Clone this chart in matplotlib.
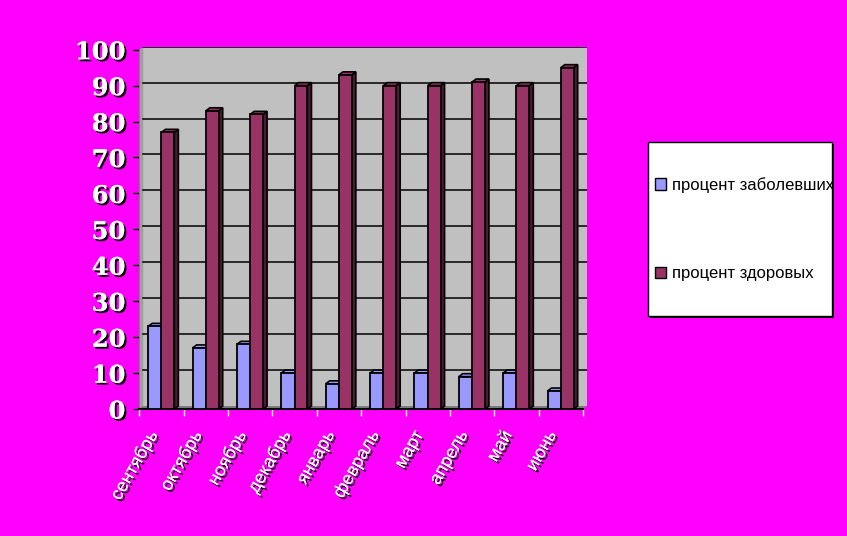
import matplotlib.pyplot as plt
import matplotlib.patheffects as pe
from matplotlib.patches import Polygon, Rectangle, Patch
import numpy as np

months = ["сентябрь", "октябрь", "ноябрь", "декабрь", "январь",
          "февраль", "март", "апрель", "май", "июнь"]
sick = [23, 17, 18, 10, 7, 10, 10, 9, 10, 5]
healthy = [77, 83, 82, 90, 93, 90, 90, 91, 90, 95]
series_names = ["процент заболевших", "процент здоровых"]
yticks = [0, 10, 20, 30, 40, 50, 60, 70, 80, 90, 100]

c_sick = "#9999ff"
c_sick_dark = "#4d4d80"
c_health = "#993366"
c_health_dark = "#4d1a33"
bg = "#ff00ff"

# depth of the fake 3d (data units): ~4px right, ~3px up
dx, dy = 0.09, 0.83

fig = plt.figure(figsize=(8.47, 5.36), dpi=100, facecolor=bg)
ax = fig.add_axes([139.3/847, 127/536, 447.7/847, 362.3/536])
ax.set_facecolor(bg)
ax.set_xlim(0, 10 + dx)
ax.set_ylim(0, 100 + dy)

# back wall, side wall and floor
ax.add_patch(Polygon([(dx, dy), (10 + dx, dy), (10 + dx, 100 + dy), (dx, 100 + dy)], closed=True,
                     facecolor="#c0c0c0", edgecolor="none", zorder=0.4))
ax.add_patch(Polygon([(0, 0), (dx, dy), (dx, 100 + dy), (0, 100)], closed=True,
                     facecolor="#a0a0a0", edgecolor="none", zorder=0.5))
ax.add_patch(Polygon([(0, 0), (10, 0), (10 + dx, dy), (dx, dy)], closed=True,
                     facecolor="#808080", edgecolor="none", zorder=0.5))

for y in yticks[1:]:
    ax.plot([dx, 10 + dx], [y + dy, y + dy], color="black", lw=1.1, zorder=1)

w_s, w_h = 0.31, 0.29
off_s, off_h = 0.2, 0.5


def bar3d(x0, w, h, face, dark):
    ax.add_patch(Polygon([(x0 + w, 0), (x0 + w + dx, dy), (x0 + w + dx, h + dy), (x0 + w, h)],
                         closed=True, facecolor=dark, edgecolor="black", lw=1.2, zorder=3))
    ax.add_patch(Polygon([(x0, h), (x0 + dx, h + dy), (x0 + w + dx, h + dy), (x0 + w, h)],
                         closed=True, facecolor=face, edgecolor="black", lw=1.2, zorder=3))


x = np.arange(len(months))
ax.bar(x + off_s, sick, width=w_s, align="edge", color=c_sick, edgecolor="black", lw=1.3, zorder=4)
ax.bar(x + off_h, healthy, width=w_h, align="edge", color=c_health, edgecolor="black", lw=1.3, zorder=6)
for i in range(len(months)):
    bar3d(x[i] + off_s, w_s, sick[i], c_sick, c_sick_dark)
    bar3d(x[i] + off_h, w_h, healthy[i], c_health, c_health_dark)

shadow = [pe.withSimplePatchShadow(offset=(1.5, -1.5), shadow_rgbFace="black", alpha=1), pe.Normal()]

ax.set_yticks(yticks)
ax.set_yticklabels([str(v) for v in yticks], fontsize=17.5, fontweight="bold",
                   family="DejaVu Serif", color="white")
for t in ax.get_yticklabels():
    t.set_path_effects(shadow)
ax.tick_params(axis="y", length=4, width=1, color="black", pad=6)

ax.set_xticks(np.arange(len(months) + 1))
ax.set_xticklabels([])
ax.tick_params(axis="x", length=5, width=1, color="white", direction="out")

for i, m in enumerate(months):
    ax.text(i + 0.32, -6.5, m, rotation=60, ha="right", va="center", rotation_mode="anchor",
            fontsize=13, family="Liberation Sans", color="white", path_effects=shadow)

for s in ["top", "right"]:
    ax.spines[s].set_visible(False)
ax.spines["left"].set_color("#808080")
ax.spines["left"].set_bounds(0, 100)
ax.spines["bottom"].set_color("black")
ax.spines["bottom"].set_linewidth(1.5)
ax.spines["bottom"].set_bounds(0, 10)

# legend box
fig.patches.append(Rectangle((650/847, 1 - 318/536), 184/847, 174/536, transform=fig.transFigure,
                             facecolor="black", edgecolor="none", zorder=1))
fig.patches.append(Rectangle((648/847, 1 - 316/536), 184/847, 174/536, transform=fig.transFigure,
                             facecolor="white", edgecolor="black", lw=1, zorder=2))
handles = [Patch(facecolor=c_sick, edgecolor="black"), Patch(facecolor=c_health, edgecolor="black")]
leg = fig.legend(handles, series_names, loc="upper left", bbox_to_anchor=(655/847, 1 - 177/536),
                 frameon=False, prop={"family": "Liberation Sans", "size": 12},
                 handlelength=0.65, handleheight=0.65, handletextpad=0.35, labelspacing=4.4,
                 borderpad=0, borderaxespad=0)
leg.set_zorder(3)

fig.savefig("out.png", dpi=100, facecolor=bg)
